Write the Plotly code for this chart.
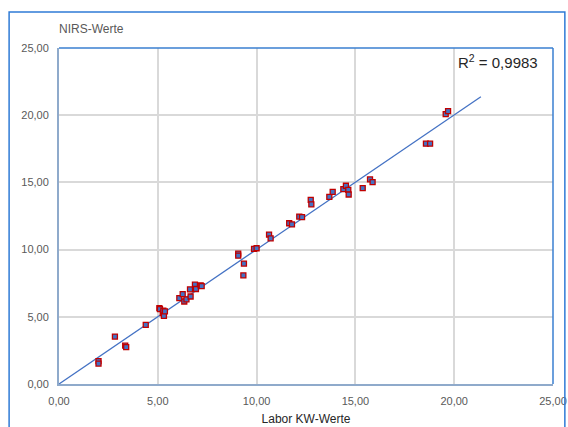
import numpy as np
import plotly.graph_objects as go

# Laborwerte (x) und NIRS-Vorhersage (y)
labor_kw = [2.0, 2.0, 2.83, 3.35, 3.4, 4.39,
            5.08, 5.11, 5.25, 5.28, 5.31, 5.36,
            6.09, 6.26, 6.34, 6.45, 6.63, 6.66, 6.88, 6.93, 7.17, 7.22,
            9.07, 9.07, 9.36, 9.33, 9.87, 10.0,
            10.63, 10.71, 11.65, 11.79, 12.16, 12.3, 12.74, 12.77,
            13.68, 13.85, 14.39, 14.52, 14.64, 14.66, 15.37, 15.74, 15.87,
            18.57, 18.78, 19.57, 19.69]
nirs = [1.7, 1.52, 3.53, 2.85, 2.75, 4.40,
        5.65, 5.57, 5.27, 5.45, 5.07, 5.40,
        6.39, 6.69, 6.14, 6.30, 7.04, 6.51, 7.39, 7.07, 7.34, 7.28,
        9.70, 9.55, 8.96, 8.08, 10.05, 10.1,
        11.12, 10.84, 11.96, 11.87, 12.46, 12.41, 13.70, 13.36,
        13.93, 14.30, 14.50, 14.75, 14.45, 14.10, 14.57, 15.22, 15.02,
        17.88, 17.88, 20.08, 20.30]

r2_text = "0,9983"
trend_x = [0.0, 21.35]
axis_ticks = [0, 5, 10, 15, 20, 25]

# linearer Trend durch den Ursprung
x_arr = np.array(labor_kw)
y_arr = np.array(nirs)
slope = float((x_arr * y_arr).sum() / (x_arr * x_arr).sum())
trend_y = [slope * v for v in trend_x]

fig = go.Figure()
fig.add_trace(go.Scatter(
    x=trend_x, y=trend_y, mode="lines",
    line=dict(color="#4472C4", width=1.3),
    hoverinfo="skip", showlegend=False,
))
fig.add_trace(go.Scatter(
    x=labor_kw, y=nirs, mode="markers",
    marker=dict(symbol="square", size=5, color="#4472C4",
                line=dict(color="#C00000", width=1.3)),
    showlegend=False,
))

tick_font = dict(family="Liberation Sans, Arial, sans-serif", size=11, color="#595959")
axis_common = dict(
    range=[0, 25], tickvals=axis_ticks, tickformat=".2f",
    showgrid=True, gridcolor="#D9D9D9", gridwidth=1.5,
    zeroline=False, showline=True, linecolor="#8FAACB", linewidth=2,
    ticks="outside", ticklen=6, tickcolor="rgba(0,0,0,0)",
    tickfont=tick_font, fixedrange=True, automargin=False,
)

fig.update_layout(
    width=568, height=427,
    margin=dict(l=59, r=15, t=48, b=43, autoexpand=False),
    paper_bgcolor="white", plot_bgcolor="white",
    separators=",.",
    xaxis=dict(**axis_common,
               title=dict(text="Labor KW-Werte", standoff=8,
                          font=dict(family="Liberation Sans, Arial, sans-serif",
                                    size=12, color="#262626"))),
    yaxis=dict(**axis_common),
    annotations=[
        dict(text="NIRS-Werte", xref="paper", yref="paper",
             x=-0.005, y=1.057, xanchor="left", yanchor="middle", showarrow=False,
             font=dict(family="Liberation Sans, Arial, sans-serif", size=12, color="#595959")),
        dict(text="R<sup>2</sup> = " + r2_text, xref="paper", yref="paper",
             x=0.973, y=0.96, xanchor="right", yanchor="middle", showarrow=False,
             font=dict(family="Liberation Sans Narrow, Liberation Sans, sans-serif",
                       size=15, color="#262626")),
    ],
    shapes=[
        # Rahmen um die Zeichenfläche (oben / rechts)
        dict(type="line", xref="paper", yref="paper", x0=0, x1=1, y0=1, y1=1,
             line=dict(color="#3A7FD0", width=1.5), layer="above"),
        dict(type="line", xref="paper", yref="paper", x0=1, x1=1, y0=0, y1=1,
             line=dict(color="#3A7FD0", width=1.5), layer="above"),
        # äußerer Diagrammrahmen
        dict(type="rect", xref="paper", yref="paper",
             x0=-0.101, x1=1.024, y0=-0.15, y1=1.107,
             line=dict(color="#2F7BD6", width=1.5), fillcolor="rgba(0,0,0,0)",
             layer="above"),
    ],
)

fig.write_html("out.html")
